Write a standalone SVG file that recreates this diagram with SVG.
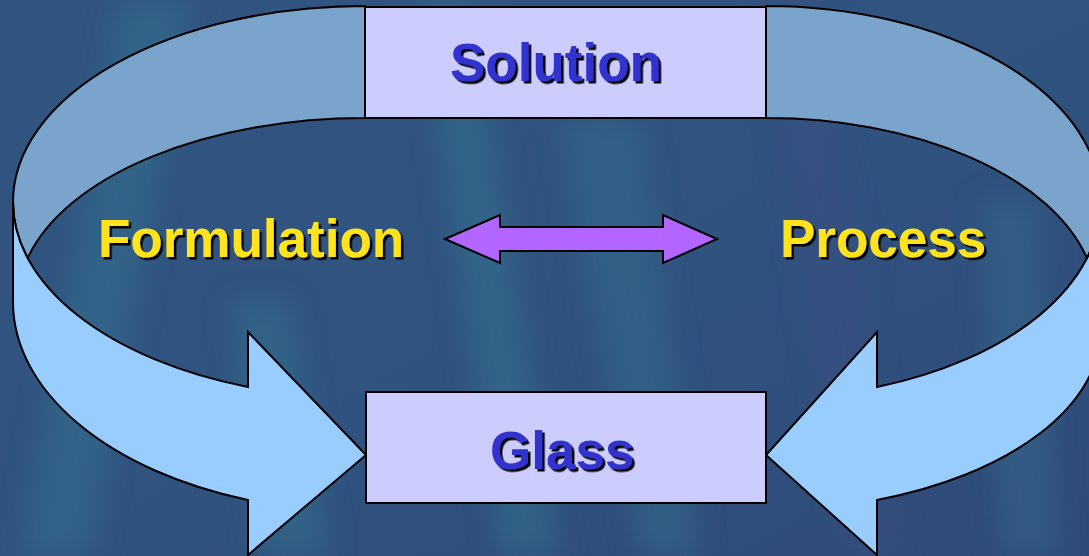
<svg xmlns="http://www.w3.org/2000/svg" width="1089" height="556" viewBox="0 0 1089 556">
  <defs>
    <linearGradient id="bg" x1="0" y1="0" x2="1" y2="1">
      <stop offset="0" stop-color="#31557f"/>
      <stop offset="0.5" stop-color="#30537f"/>
      <stop offset="1" stop-color="#2f4a78"/>
    </linearGradient>
    <filter id="blur" x="-20%" y="-20%" width="140%" height="140%">
      <feGaussianBlur stdDeviation="14"/>
    </filter>
    <filter id="sh" x="-10%" y="-20%" width="120%" height="140%">
      <feDropShadow dx="2.5" dy="2.5" stdDeviation="0.2" flood-color="#000000" flood-opacity="1"/>
    </filter>
    <style>
      .back { fill: #7aa4cc; stroke: #000; stroke-width: 2; stroke-linejoin: miter; }
      .front { fill: #99ccff; stroke: #000; stroke-width: 2; stroke-linejoin: miter; }
      .box { fill: #ccccff; stroke: #000; stroke-width: 2; }
      .dbl { fill: #b266ff; stroke: #000; stroke-width: 2; stroke-linejoin: miter; }
      .blue { font-family: "Liberation Sans", Arial, sans-serif; font-weight: bold; font-size: 53px; fill: #3333cc; filter: url(#sh); }
      .yel { font-family: "Liberation Sans", Arial, sans-serif; font-weight: bold; font-size: 53px; fill: #ffe31a; filter: url(#sh); }
    </style>
  </defs>

  <!-- background -->
  <rect x="0" y="0" width="1089" height="556" fill="url(#bg)"/>
  <g filter="url(#blur)" opacity="0.55">
    <path d="M120,0 L190,0 L90,556 L20,556 Z" fill="#34708f"/>
    <path d="M420,0 L470,0 L560,556 L500,556 Z" fill="#35728f"/>
    <path d="M560,120 L640,120 L700,556 L640,556 Z" fill="#346c8c"/>
    <path d="M760,0 L820,0 L900,556 L850,556 Z" fill="#3a4f82"/>
    <path d="M230,300 L290,300 L330,556 L260,556 Z" fill="#356f8e"/>
    <path d="M980,200 L1040,200 L1060,556 L1000,556 Z" fill="#34688c"/>
  </g>

  <!-- connectors -->
  <g id="connectors">
    <!-- left curved arrow: Solution -> Glass -->
    <g id="left-arrow">
      <path class="back" d="M365,6 A352,196 0 0 0 13,202 A352,196 0 0 0 27.7,258 A347,184 0 0 1 365,118 Z"/>
      <path class="front" d="M13,202 L13,302 A352,210 0 0 0 248,500 L248,555 L366,455 L248,332 L248,387 A352,196 0 0 1 13,202 Z"/>
    </g>
    <!-- right curved arrow: Solution -> Glass -->
    <g id="right-arrow">
      <path class="back" d="M766,6 A335,196 0 0 1 1101,202 A335,196 0 0 1 1086.9,258 A330,184 0 0 0 766,118 Z"/>
      <path class="front" d="M1101,202 L1101,329 A335,181 0 0 1 877,500 L877,555 L766,455 L877,332 L877,387 A335,196 0 0 0 1101,202 Z"/>
    </g>
    <!-- double arrow between Formulation and Process -->
    <path id="double-arrow" class="dbl" d="M445,239 L500,215 L500,227 L663,227 L663,215 L717,239 L663,263 L663,251 L500,251 L500,263 Z"/>
  </g>

  <!-- nodes -->
  <g id="solution">
    <rect class="box" x="365" y="7" width="401" height="111"/>
    <text class="blue" x="450" y="81">Solution</text>
  </g>
  <g id="glass">
    <rect class="box" x="366" y="392" width="400" height="111"/>
    <text class="blue" x="490" y="469">Glass</text>
  </g>
  <g id="formulation">
    <text class="yel" x="98" y="257">Formulation</text>
  </g>
  <g id="process">
    <text class="yel" x="780" y="257">Process</text>
  </g>
</svg>
